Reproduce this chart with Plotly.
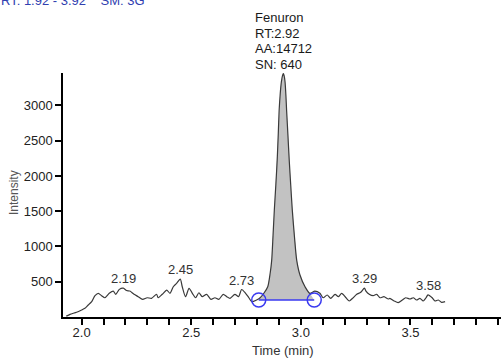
import plotly.graph_objects as go

# ---- data ----
time_min = [1.93, 1.947, 1.977, 2.000, 2.015, 2.030, 2.046, 2.061, 2.076, 2.091, 2.106, 2.126,
            2.144, 2.156, 2.172, 2.19, 2.205, 2.220, 2.239, 2.258, 2.278, 2.299, 2.319, 2.342,
            2.349, 2.368, 2.388, 2.403, 2.418, 2.433, 2.45, 2.459, 2.474, 2.490, 2.505, 2.520,
            2.535, 2.550, 2.570, 2.590, 2.608, 2.626, 2.646, 2.662, 2.677, 2.699, 2.716, 2.73,
            2.748, 2.763, 2.776, 2.798, 2.813, 2.832, 2.849, 2.860, 2.867, 2.873, 2.879, 2.886,
            2.892, 2.897, 2.901, 2.906, 2.911, 2.916, 2.920, 2.924, 2.928, 2.932, 2.935, 2.941,
            2.947, 2.954, 2.961, 2.971, 2.981, 2.996, 3.019, 3.041, 3.064, 3.087, 3.102, 3.120,
            3.136, 3.156, 3.171, 3.186, 3.206, 3.221, 3.236, 3.255, 3.273, 3.29, 3.297, 3.312,
            3.330, 3.346, 3.361, 3.379, 3.399, 3.406, 3.426, 3.444, 3.463, 3.478, 3.498, 3.513,
            3.528, 3.543, 3.558, 3.571, 3.58, 3.599, 3.612, 3.627, 3.642, 3.658]
intensity = [12, 38, 67, 99, 123, 170, 217, 302, 336, 302, 273, 336,
             368, 322, 392, 410, 375, 368, 322, 288, 251, 273, 265, 322,
             273, 322, 382, 336, 429, 477, 538, 429, 288, 407, 336, 273,
             344, 288, 322, 251, 273, 251, 322, 288, 265, 322, 288, 390,
             336, 273, 217, 241, 269, 340, 429, 620, 807, 1150, 1516, 1880,
             2224, 2600, 2932, 3170, 3330, 3420, 3452, 3420, 3330, 3130, 2932, 2580,
             2224, 1860, 1516, 1130, 807, 595, 429, 336, 368, 336, 273, 312,
             265, 322, 288, 336, 273, 227, 265, 322, 350, 410, 368, 322,
             302, 322, 273, 288, 255, 265, 227, 203, 241, 273, 255, 273,
             241, 265, 227, 273, 315, 273, 227, 241, 208, 217]

label_times = [2.19, 2.45, 2.73, 3.29, 3.58]
peak_info = ["Fenuron", "RT:2.92", "AA:14712", "SN: 640"]
peak_label_time = 2.781
baseline_times = [2.808, 3.061]
baseline_intensity = [241, 241]
x_tickvals = [2.0, 2.5, 3.0, 3.5]
x_ticktext = ["2.0", "2.5", "3.0", "3.5"]
y_tickvals = [500, 1000, 1500, 2000, 2500, 3000]
header_text = "RT: 1.92 - 3.92\u00a0\u00a0\u00a0\u00a0SM: 3G"

FONT = "Liberation Sans, Arial, sans-serif"
BLUE = "#3a3af0"

fig = go.Figure()

# integrated peak area (grey) between trace and baseline
fill_x = [baseline_times[0]] + [t for t in time_min if baseline_times[0] < t < baseline_times[1]] + [baseline_times[1]]
fill_y = [baseline_intensity[0]] + [v for t, v in zip(time_min, intensity) if baseline_times[0] < t < baseline_times[1]] + [baseline_intensity[1]]
fig.add_trace(go.Scatter(x=fill_x, y=fill_y, fill="toself", fillcolor="#c2c2c2",
                         line=dict(width=0), mode="lines", hoverinfo="skip", showlegend=False))

# chromatogram trace
fig.add_trace(go.Scatter(x=time_min, y=intensity, mode="lines",
                         line=dict(color="#3a3a3a", width=1.2, shape="spline", smoothing=0.7),
                         hoverinfo="skip", showlegend=False))

# baseline with end markers
fig.add_trace(go.Scatter(x=baseline_times, y=baseline_intensity, mode="lines+markers",
                         line=dict(color=BLUE, width=1.5),
                         marker=dict(symbol="circle-open", size=14, color=BLUE, line=dict(width=1.5, color=BLUE)),
                         hoverinfo="skip", showlegend=False))

annotations = []
for t in label_times:
    v = intensity[time_min.index(t)]
    annotations.append(dict(x=t, y=v, xref="x", yref="y", text=f"{t:.2f}", showarrow=False,
                            xanchor="center", yanchor="bottom", yshift=0,
                            font=dict(family=FONT, size=13, color="#333333")))

# peak info block
PLOT_TOP, PLOT_H, PLOT_L, PLOT_W = 73, 244, 63, 438
def py(p):
    return (PLOT_TOP + PLOT_H - p) / PLOT_H
def px(p):
    return (p - PLOT_L) / PLOT_W

for i, line in enumerate(peak_info):
    annotations.append(dict(x=peak_label_time, y=py(18 + 15.5 * i), xref="x", yref="paper", text=line,
                            showarrow=False, xanchor="left", yanchor="middle",
                            font=dict(family=FONT, size=13, color="#1a1a1a")))

# header (partly cut off at the top)
annotations.append(dict(x=px(-1), y=py(10), xref="paper", yref="paper", text=header_text,
                        showarrow=False, xanchor="left", yanchor="bottom",
                        font=dict(family=FONT, size=13, color="#3040b0")))

# axis titles
annotations.append(dict(x=px(283), y=py(350), xref="paper", yref="paper", text="Time (min)",
                        showarrow=False, xanchor="center", yanchor="middle",
                        font=dict(family=FONT, size=13, color="#333333")))
annotations.append(dict(x=px(14), y=py(193), xref="paper", yref="paper", text="Intensity",
                        showarrow=False, xanchor="center", yanchor="middle", textangle=-90,
                        font=dict(family=FONT, size=12, color="#555555")))

fig.update_layout(
    width=501, height=358,
    margin=dict(l=63, r=0, t=73, b=41, pad=0),
    paper_bgcolor="white", plot_bgcolor="white",
    annotations=annotations,
    font=dict(family=FONT, size=13, color="#222222"),
    xaxis=dict(range=[1.915, 3.913], showgrid=False, zeroline=False, showline=True,
               linecolor="black", linewidth=1.5, ticks="outside", ticklen=6, tickwidth=1.5,
               tickcolor="black", tickvals=x_tickvals, ticktext=x_ticktext,
               ticklabelstandoff=-3,
               tickfont=dict(family=FONT, size=13, color="#222222"),
               minor=dict(tick0=0, dtick=0.1, ticks="outside", ticklen=6, tickwidth=1.5,
                          tickcolor="black", showgrid=False)),
    yaxis=dict(range=[0, 3460], showgrid=False, zeroline=False, showline=True,
               linecolor="black", linewidth=1.5, ticks="outside", ticklen=6, tickwidth=1.5,
               tickcolor="black", tickvals=y_tickvals,
               tickfont=dict(family=FONT, size=13, color="#222222")),
)

fig.write_html("out.html", config={"displayModeBar": False},
               post_script="document.body.style.margin='0';document.body.style.overflow='hidden';")
